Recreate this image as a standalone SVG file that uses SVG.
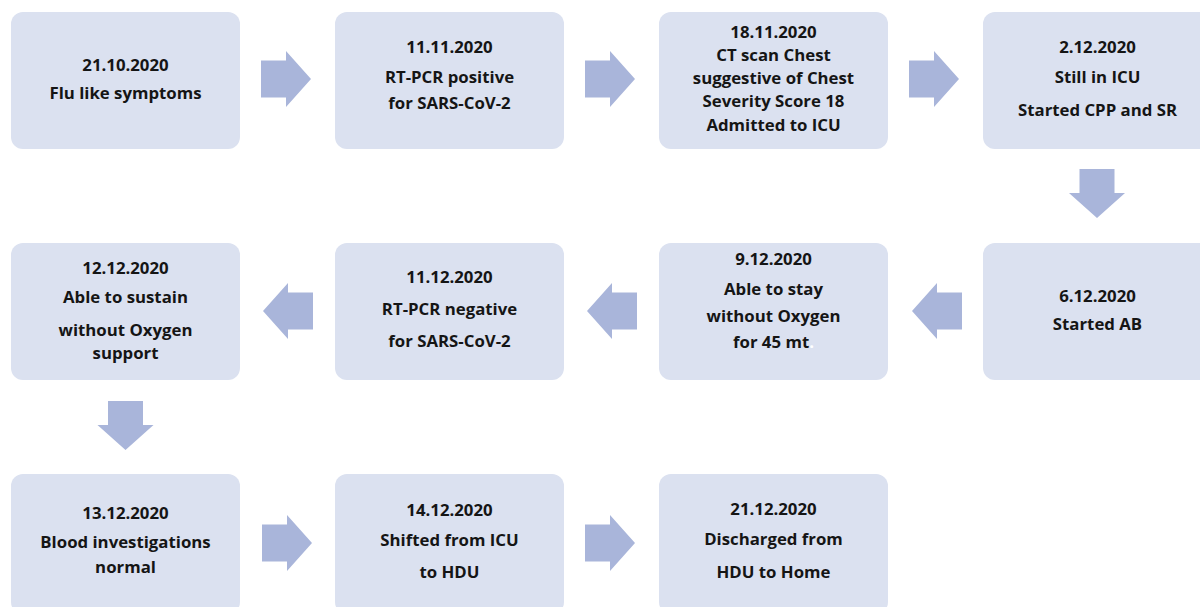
<svg xmlns="http://www.w3.org/2000/svg" width="1200" height="607" viewBox="0 0 1200 607">
<defs>
<style>
.box{fill:#dbe1f0;}
.arr{fill:#a9b5da;}
text{font-family:"Open Sans","Liberation Sans",sans-serif;font-weight:700;font-size:16.8px;fill:#151515;text-anchor:middle;}
</style>
<path id="ra" d="M0,-18.5 H25 V-28 L50,0 L25,28 V18.5 H0 Z"/>
<path id="la" d="M0,-18.5 H-25 V-28 L-50,0 L-25,28 V18.5 H0 Z"/>
<path id="da" d="M-17.5,0 V24 H-28 L0,49 L28,24 H17.5 V0 Z"/>
</defs>
<rect width="1200" height="607" fill="#ffffff"/>
<g id="n1"><rect class="box" x="11" y="12" width="229" height="137" rx="12"/><text x="125.5" y="71">21.10.2020</text><text x="125.5" y="99">Flu like symptoms</text></g>
<g id="n2"><rect class="box" x="335" y="12" width="229" height="137" rx="12"/><text x="449.5" y="53">11.11.2020</text><text x="449.5" y="83">RT-PCR positive</text><text x="449.5" y="109">for SARS-CoV-2</text></g>
<g id="n3"><rect class="box" x="659" y="12" width="229" height="137" rx="12"/><text x="773.5" y="38">18.11.2020</text><text x="773.5" y="61">CT scan Chest</text><text x="773.5" y="84">suggestive of Chest</text><text x="773.5" y="107">Severity Score 18</text><text x="773.5" y="131">Admitted to ICU</text></g>
<g id="n4"><rect class="box" x="983" y="12" width="229" height="137" rx="12"/><text x="1097.5" y="53">2.12.2020</text><text x="1097.5" y="83">Still in ICU</text><text x="1097.5" y="116">Started CPP and SR</text></g>
<g id="n5"><rect class="box" x="983" y="243" width="229" height="137" rx="12"/><text x="1097.5" y="302">6.12.2020</text><text x="1097.5" y="330">Started AB</text></g>
<g id="n6"><rect class="box" x="659" y="243" width="229" height="137" rx="12"/><text x="773.5" y="265">9.12.2020</text><text x="773.5" y="295">Able to stay</text><text x="773.5" y="322">without Oxygen</text><text x="773.5" y="348">for 45 mt<tspan fill="#ffffff">.</tspan></text></g>
<g id="n7"><rect class="box" x="335" y="243" width="229" height="137" rx="12"/><text x="449.5" y="283">11.12.2020</text><text x="449.5" y="315">RT-PCR negative</text><text x="449.5" y="347">for SARS-CoV-2</text></g>
<g id="n8"><rect class="box" x="11" y="243" width="229" height="137" rx="12"/><text x="125.5" y="274">12.12.2020</text><text x="125.5" y="303">Able to sustain</text><text x="125.5" y="336">without Oxygen</text><text x="125.5" y="359">support</text></g>
<g id="n9"><rect class="box" x="11" y="474" width="229" height="140" rx="12"/><text x="125.5" y="519">13.12.2020</text><text x="125.5" y="548">Blood investigations</text><text x="125.5" y="573">normal</text></g>
<g id="n10"><rect class="box" x="335" y="474" width="229" height="140" rx="12"/><text x="449.5" y="516">14.12.2020</text><text x="449.5" y="546">Shifted from ICU</text><text x="449.5" y="578">to HDU</text></g>
<g id="n11"><rect class="box" x="659" y="474" width="229" height="140" rx="12"/><text x="773.5" y="515">21.12.2020</text><text x="773.5" y="545">Discharged from</text><text x="773.5" y="578">HDU to Home</text></g>
<g id="connectors" class="arr">
<use href="#ra" x="261" y="79"/>
<use href="#ra" x="585" y="79"/>
<use href="#ra" x="909" y="79"/>
<use href="#da" x="1097" y="169"/>
<use href="#la" x="962" y="311"/>
<use href="#la" x="637" y="311"/>
<use href="#la" x="313" y="311"/>
<use href="#da" x="125.5" y="401"/>
<use href="#ra" x="262" y="543"/>
<use href="#ra" x="585" y="543"/>
</g>
</svg>
